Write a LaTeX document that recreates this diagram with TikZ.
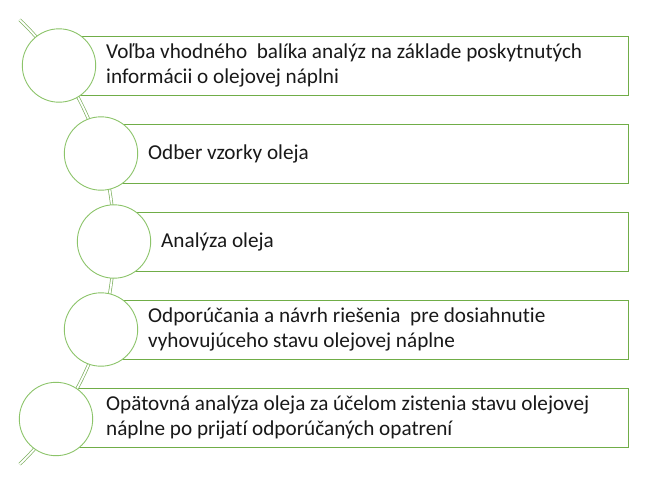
\documentclass[tikz,border=0pt]{standalone}
\usepackage{fontspec}
\setmainfont{Carlito}[Ligatures={NoCommon}]
\definecolor{rectgreen}{HTML}{70AD47}
\definecolor{circgreen}{HTML}{8CC46A}
\begin{document}
\begin{tikzpicture}[x=1pt,y=-1pt,
  rectbox/.style={draw=rectgreen,line width=1pt,fill=white,minimum height=59pt,anchor=west,inner sep=0pt},
  circbox/.style={circle,draw=circgreen,line width=0.9pt,fill=white,minimum size=73.4pt,inner sep=0pt},
  label/.style={anchor=west,align=left,inner sep=0pt,font=\fontsize{21.2}{24.5}\selectfont,text=black!90},
  arcline/.style={draw=circgreen!90!black,line width=0.7pt,double=white,double distance=1.8pt}]
\useasboundingbox (0,0) rectangle (660,485);
% rectangles
\node[rectbox,minimum width=569pt] (r1) at (59,65.5) {};
\node[rectbox,minimum width=527pt] (r2) at (101,153.5) {};
\node[rectbox,minimum width=514pt] (r3) at (114,241.5) {};
\node[rectbox,minimum width=527pt] (r4) at (101,329.5) {};
\node[rectbox,minimum width=572pt] (r5) at (56,417.5) {};
% curved spine
\draw[arcline] (-195,242) ++(46:309) arc (46:-46:309);
% circles
\node[circbox] (c1) at (59,65.5) {};
\node[circbox] (c2) at (101,153.5) {};
\node[circbox] (c3) at (114,241.5) {};
\node[circbox] (c4) at (101,329.5) {};
\node[circbox] (c5) at (56,419) {};
% texts
\node[label] (t1) at (106,65.5) {Voľba vhodného\ \ balíka analýz na základe poskytnutých\\informácii o olejovej náplni};
\node[label] (t2) at (148,153.5) {Odber vzorky oleja};
\node[label] (t3) at (161,241.5) {Analýza oleja};
\node[label] (t4) at (148,329.5) {Odporúčania a návrh riešenia\ \ pre dosiahnutie\\vyhovujúceho stavu olejovej náplne};
\node[label] (t5) at (106,417.5) {Opätovná analýza oleja za účelom zistenia stavu olejovej\\náplne po prijatí odporúčaných opatrení};
\end{tikzpicture}
\end{document}
